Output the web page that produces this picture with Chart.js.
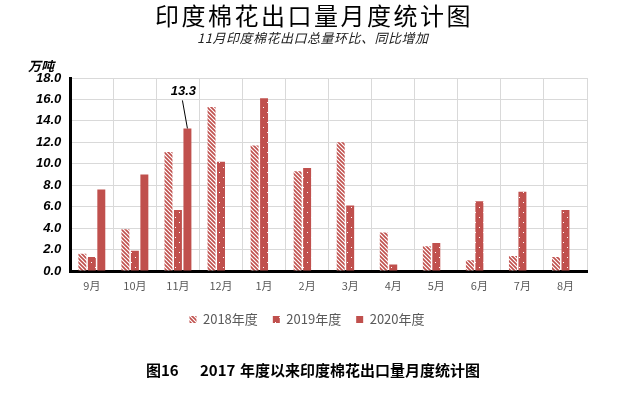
<!DOCTYPE html>
<html>
<head>
<meta charset="utf-8">
<script src="https://cdn.jsdelivr.net/npm/chart.js@4.4.0/dist/chart.umd.min.js"></script>
<style>
html, body { margin: 0; padding: 0; background: #fff; }
#wrap { width: 629px; height: 393px; position: relative; }
</style>
</head>
<body>
<div id="wrap"><canvas id="coton" width="629" height="393"></canvas></div>
<script>
let mois = ['9月', '10月', '11月', '12月', '1月', '2月', '3月', '4月', '5月', '6月', '7月', '8月'];
let annee2018 = [1.6, 3.9, 11.1, 15.3, 11.7, 9.3, 12.0, 3.6, 2.3, 1.0, 1.4, 1.3];
let annee2019 = [1.3, 1.9, 5.7, 10.2, 16.1, 9.6, 6.1, 0.6, 2.6, 6.5, 7.4, 5.7];
let annee2020 = [7.6, 9.0, 13.3, null, null, null, null, null, null, null, null, null];
let seriesNames = ['2018年度', '2019年度', '2020年度'];
let yMin = 0, yMax = 18, yStep = 2;

let titre = '印度棉花出口量月度统计图';
let sousTitre = '11月印度棉花出口总量环比、同比增加';
let unite = '万吨';
let legende = '图16    2017 年度以来印度棉花出口量月度统计图';

const rouge = '#C0504D';
let canvas = document.getElementById('coton');
let ctx = canvas.getContext('2d');

// motif hachures pour 2018
function hachures() {
    let c = document.createElement('canvas');
    c.width = 4; c.height = 4;
    let g = c.getContext('2d');
    g.fillStyle = '#fff';
    g.fillRect(0, 0, 4, 4);
    g.strokeStyle = rouge;
    g.lineWidth = 1.6;
    g.beginPath();
    g.moveTo(0, 0); g.lineTo(4, 4);
    g.moveTo(-2, 2); g.lineTo(2, 6);
    g.moveTo(2, -2); g.lineTo(6, 2);
    g.stroke();
    return ctx.createPattern(c, 'repeat');
}

// motif points blancs pour 2019
function points() {
    let c = document.createElement('canvas');
    c.width = 8; c.height = 10;
    let g = c.getContext('2d');
    g.fillStyle = rouge;
    g.fillRect(0, 0, 8, 10);
    g.fillStyle = '#fff';
    g.fillRect(3, 2, 1, 1);
    g.fillRect(7, 7, 1, 1);
    return ctx.createPattern(c, 'repeat');
}

// textes: titre, sous-titre, unite, legende du bas, etiquette 13.3
const textes = {
    id: 'textes',
    afterDraw(chart) {
        let c = chart.ctx;
        c.save();
        c.fillStyle = '#000';
        c.textAlign = 'left';
        c.textBaseline = 'middle';
        c.font = '24px "Noto Sans CJK SC"';
        c.letterSpacing = '2.5px';
        c.fillText(titre, 155, 16);
        c.letterSpacing = '0.5px';
        c.fillStyle = '#222';
        c.font = 'italic 13px "Noto Sans CJK SC"';
        c.fillText(sousTitre, 197, 38);
        c.letterSpacing = '0px';
        c.fillStyle = '#000';
        c.font = 'italic bold 13px "Noto Sans CJK SC"';
        c.fillText(unite, 28, 66);

        // legende du bas en trois morceaux
        let morceaux = legende.split(/\s+/);
        let xs = [146, 200, 240];
        c.font = 'bold 15px "Noto Sans CJK SC"';
        morceaux.forEach((m, i) => c.fillText(m, xs[i], 370));

        // etiquette de la barre 11月 2020
        let bar = chart.getDatasetMeta(2).data[2];
        c.strokeStyle = '#000';
        c.lineWidth = 1;
        c.beginPath();
        c.moveTo(bar.x - 5, bar.y - 28);
        c.lineTo(bar.x, bar.y);
        c.stroke();
        c.textAlign = 'center';
        c.font = 'italic bold 13px "Liberation Sans"';
        c.fillText(annee2020[2].toFixed(1), bar.x - 4, bar.y - 37);
        c.restore();
    }
};

let datas = {
    labels: mois,
    datasets: [
        { label: seriesNames[0], data: annee2018, backgroundColor: hachures(), borderWidth: 0 },
        { label: seriesNames[1], data: annee2019, backgroundColor: points(), borderWidth: 0 },
        { label: seriesNames[2], data: annee2020, backgroundColor: rouge, borderWidth: 0 }
    ]
};

let chart = new Chart(ctx, {
    type: 'bar',
    data: datas,
    options: {
        responsive: false,
        animation: false,
        devicePixelRatio: 1,
        layout: { padding: { left: 27, right: 42, top: 78, bottom: 57 } },
        datasets: { bar: { categoryPercentage: 0.66, barPercentage: 0.84 } },
        scales: {
            x: {
                grid: { color: '#d9d9d9', drawTicks: false },
                border: { color: '#000', width: 3 },
                ticks: { color: '#595959', font: { size: 11, family: '"Noto Sans CJK SC"' }, padding: 8 },
                afterFit: scale => { scale.height = 27; }
            },
            y: {
                min: yMin,
                max: yMax,
                grid: { color: '#d9d9d9', drawTicks: false },
                border: { color: '#000', width: 3 },
                ticks: {
                    stepSize: yStep,
                    color: '#000',
                    padding: 9,
                    font: { size: 13, family: '"Liberation Sans"', weight: 'bold', style: 'italic' },
                    callback: v => v.toFixed(1)
                }
            }
        },
        plugins: {
            legend: {
                position: 'bottom',
                labels: {
                    boxWidth: 7,
                    boxHeight: 7,
                    padding: 15,
                    color: '#595959',
                    font: { size: 13, family: '"Noto Sans CJK SC"' }
                }
            },
            tooltip: { enabled: false }
        }
    },
    plugins: [textes]
});
</script>
</body>
</html>
